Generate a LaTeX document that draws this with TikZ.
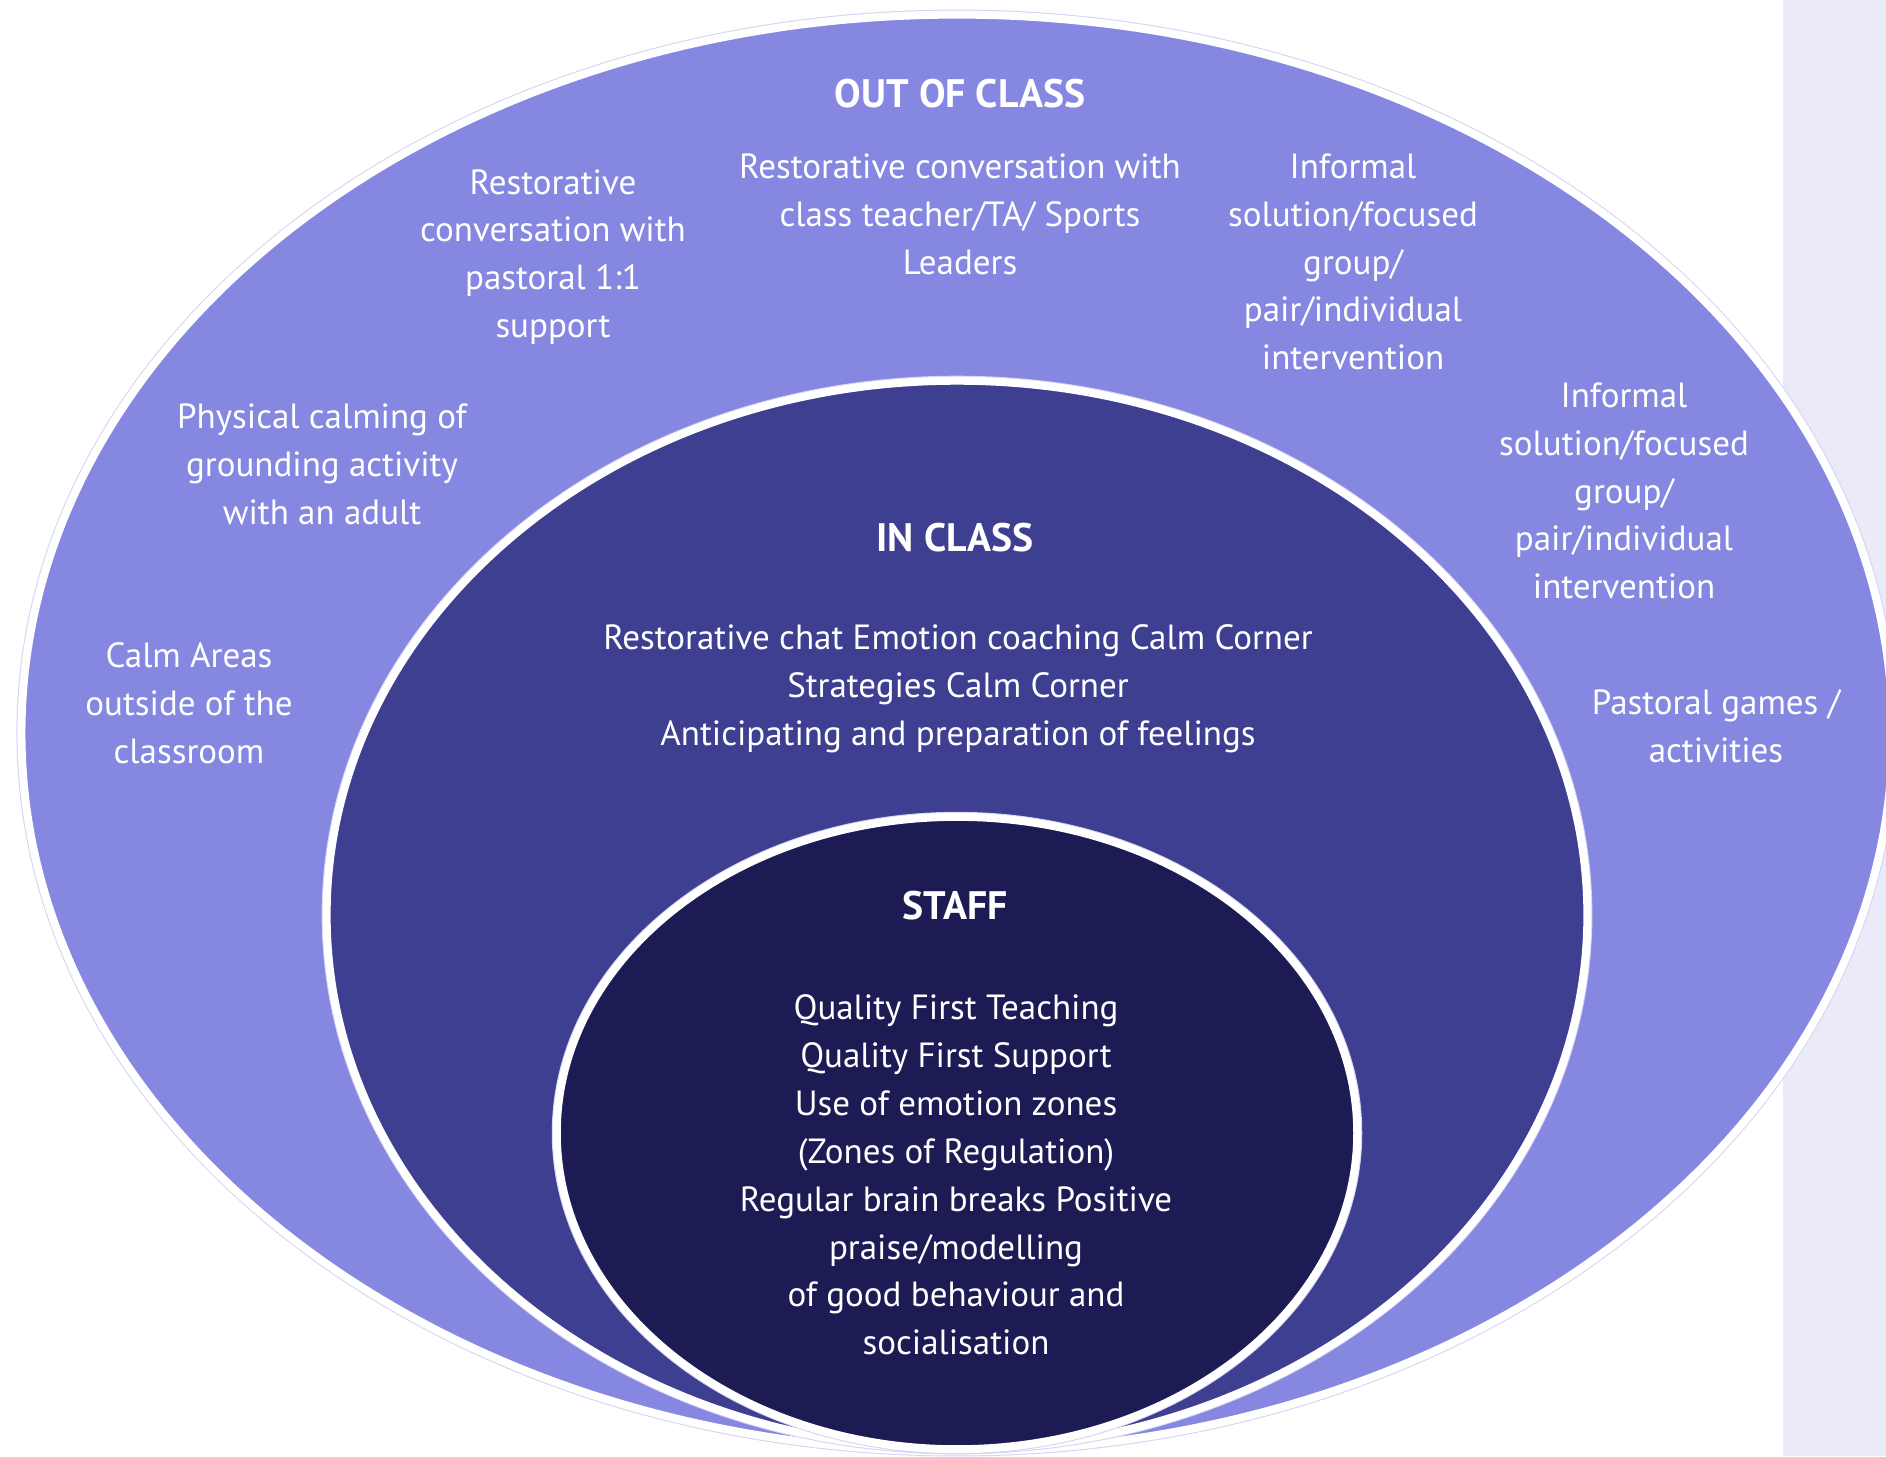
\documentclass[tikz,border=0pt]{standalone}
\usepackage{fontspec}
\setmainfont{PT Sans}
\definecolor{outerring}{HTML}{8587E1}
\definecolor{midring}{HTML}{3F3F92}
\definecolor{innerring}{HTML}{1C1B53}
\definecolor{sidebar}{HTML}{EBEAF9}
\definecolor{rimline}{HTML}{D4D3F3}
\begin{document}
\begin{tikzpicture}[x=0.01cm, y=-0.01cm,
    ring/.style={fill=#1, draw=white, line width=0.08cm},
    rim/.style={draw=rimline, line width=0.1cm},
    label/.style={text=white, align=center, font=\fontsize{9.95}{13.6}\selectfont},
    heading/.style={text=white, font=\fontsize{11.3}{13.6}\selectfont\bfseries}]
        \useasboundingbox (0,0) rectangle (1886,1456);
        \clip (0,0) rectangle (1886,1456);
        \fill[sidebar] (1783,0) rectangle (1886,1456);
        % three rings, each sitting on the same bottom point
        \draw[rim] (957,733) ellipse [x radius=9.35cm, y radius=7.18cm];
        \draw[ring=outerring] (957,733) ellipse [x radius=9.35cm, y radius=7.18cm];
        \draw[rim] (957,915) ellipse [x radius=6.30cm, y radius=5.34cm];
        \draw[ring=midring] (957,915) ellipse [x radius=6.30cm, y radius=5.34cm];
        \draw[rim] (957,1133) ellipse [x radius=4.00cm, y radius=3.16cm];
        \draw[ring=innerring] (957,1133) ellipse [x radius=4.00cm, y radius=3.16cm];
        % out of class
        \node[heading] (outtitle) at (960,94) {OUT OF CLASS};
        \node[label] (teacherchat) at (960,214) {Restorative conversation with\\class teacher/TA/ Sports\\Leaders};
        \node[label] (pastoralchat) at (553,257) {Restorative\\conversation with\\pastoral 1:1\\support};
        \node[label] (informalone) at (1353,262) {Informal\\solution/focused\\group/\\pair/individual\\intervention};
        \node[label] (informaltwo) at (1624,491) {Informal\\solution/focused\\group/\\pair/individual\\intervention};
        \node[label] (calming) at (322,464) {Physical calming of\\grounding activity\\with an adult};
        \node[label] (calmareas) at (189,703) {Calm Areas\\outside of the\\classroom};
        \node[label] (games) at (1716,726) {Pastoral games /\\activities};
        % in class
        \node[heading] (intitle) at (955,538) {IN CLASS};
        \node[label] (inlist) at (958,689) {Restorative chat Emotion coaching Calm Corner\\Strategies Calm Corner\\Anticipating and preparation of feelings};
        % staff
        \node[heading] (stafftitle) at (955,906) {STAFF};
        \node[label] (stafflist) at (956,1175) {Quality First Teaching\\Quality First Support\\Use of emotion zones\\(Zones of Regulation)\\Regular brain breaks Positive\\praise/modelling\\of good behaviour and\\socialisation};
\end{tikzpicture}
\end{document}
